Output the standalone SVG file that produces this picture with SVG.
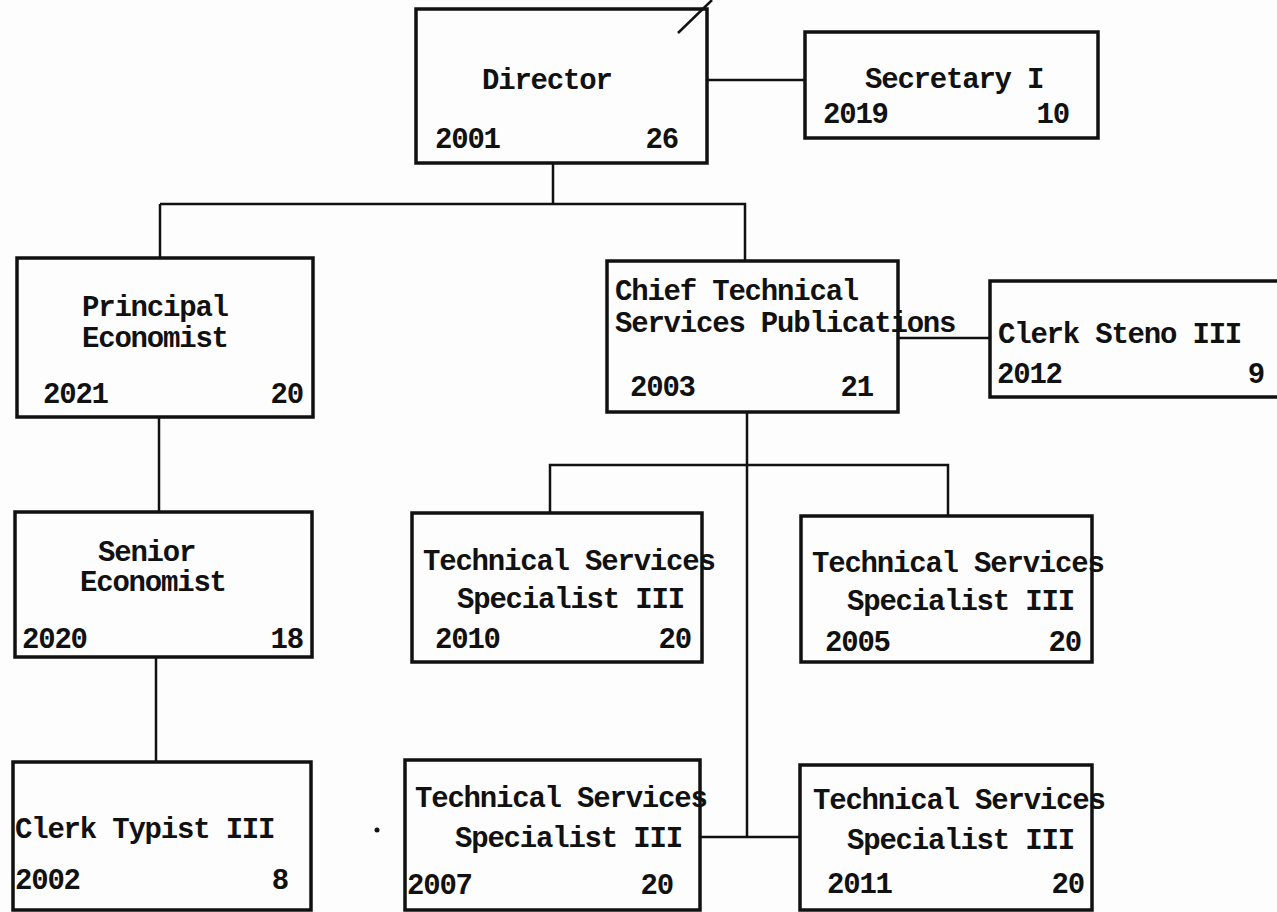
<svg xmlns="http://www.w3.org/2000/svg" width="1277" height="912" viewBox="0 0 1277 912">
<style>
.box{fill:none;stroke:#111;stroke-width:3.5}
.t{font-family:"Liberation Mono","DejaVu Sans Mono",monospace;font-size:29px;letter-spacing:-1.2px;font-weight:bold;fill:#111}
.e{text-anchor:end}
.c{fill:none;stroke:#111;stroke-width:2.5}
</style>
<rect x="0" y="0" width="1277" height="912" fill="#fdfdfd"/>
<g id="connectors">
<path class="c" d="M707 80H805"/>
<path class="c" d="M553 163V204M160 204H745V261"/>
<path class="c" d="M160 204V258"/>
<path class="c" d="M159 417V512"/>
<path class="c" d="M156 657V762"/>
<path class="c" d="M898 338H990"/>
<path class="c" d="M747 412V837"/>
<path class="c" d="M550 513V465H948V516"/>
<path class="c" d="M700 837H800"/>
</g>
<line x1="678" y1="33" x2="712" y2="0" stroke="#111" stroke-width="2.5"/>
<circle cx="377" cy="830" r="2.5" fill="#111"/>
<g id="director">
<rect class="box" x="416" y="9" width="291" height="154"/>
<text class="t" x="482" y="89">Director</text>
<text class="t" x="435" y="148">2001</text>
<text class="t e" x="678" y="148">26</text>
</g>
<g id="secretary">
<rect class="box" x="805" y="32" width="293" height="106"/>
<text class="t" x="865" y="88">Secretary I</text>
<text class="t" x="823" y="123">2019</text>
<text class="t e" x="1069" y="123">10</text>
</g>
<g id="principal">
<rect class="box" x="17" y="258" width="296" height="159"/>
<text class="t" x="82" y="316">Principal</text>
<text class="t" x="82" y="347">Economist</text>
<text class="t" x="43" y="403">2021</text>
<text class="t e" x="303" y="403">20</text>
</g>
<g id="chief">
<rect class="box" x="607" y="261" width="291" height="151"/>
<text class="t" x="615" y="300">Chief Technical</text>
<text class="t" x="615" y="332">Services Publications</text>
<text class="t" x="630" y="396">2003</text>
<text class="t e" x="873" y="396">21</text>
</g>
<g id="clerksteno">
<rect class="box" x="990" y="281" width="300" height="116"/>
<text class="t" x="998" y="343">Clerk Steno III</text>
<text class="t" x="997" y="383">2012</text>
<text class="t e" x="1264" y="383">9</text>
</g>
<g id="senior">
<rect class="box" x="15" y="512" width="297" height="145"/>
<text class="t" x="98" y="561">Senior</text>
<text class="t" x="80" y="591">Economist</text>
<text class="t" x="22" y="648">2020</text>
<text class="t e" x="303" y="648">18</text>
</g>
<g id="tss2010">
<rect class="box" x="412" y="513" width="290" height="149"/>
<text class="t" x="423" y="570">Technical Services</text>
<text class="t" x="457" y="608">Specialist III</text>
<text class="t" x="435" y="648">2010</text>
<text class="t e" x="691" y="648">20</text>
</g>
<g id="tss2005">
<rect class="box" x="801" y="516" width="291" height="146"/>
<text class="t" x="812" y="572">Technical Services</text>
<text class="t" x="847" y="610">Specialist III</text>
<text class="t" x="825" y="651">2005</text>
<text class="t e" x="1081" y="651">20</text>
</g>
<g id="clerktypist">
<rect class="box" x="13" y="762" width="298" height="148"/>
<text class="t" x="15" y="838">Clerk Typist III</text>
<text class="t" x="15" y="889">2002</text>
<text class="t e" x="288" y="889">8</text>
</g>
<g id="tss2007">
<rect class="box" x="405" y="760" width="295" height="150"/>
<text class="t" x="415" y="807">Technical Services</text>
<text class="t" x="455" y="847">Specialist III</text>
<text class="t" x="407" y="894">2007</text>
<text class="t e" x="673" y="894">20</text>
</g>
<g id="tss2011">
<rect class="box" x="800" y="765" width="292" height="145"/>
<text class="t" x="813" y="809">Technical Services</text>
<text class="t" x="847" y="849">Specialist III</text>
<text class="t" x="827" y="893">2011</text>
<text class="t e" x="1084" y="893">20</text>
</g>
</svg>
